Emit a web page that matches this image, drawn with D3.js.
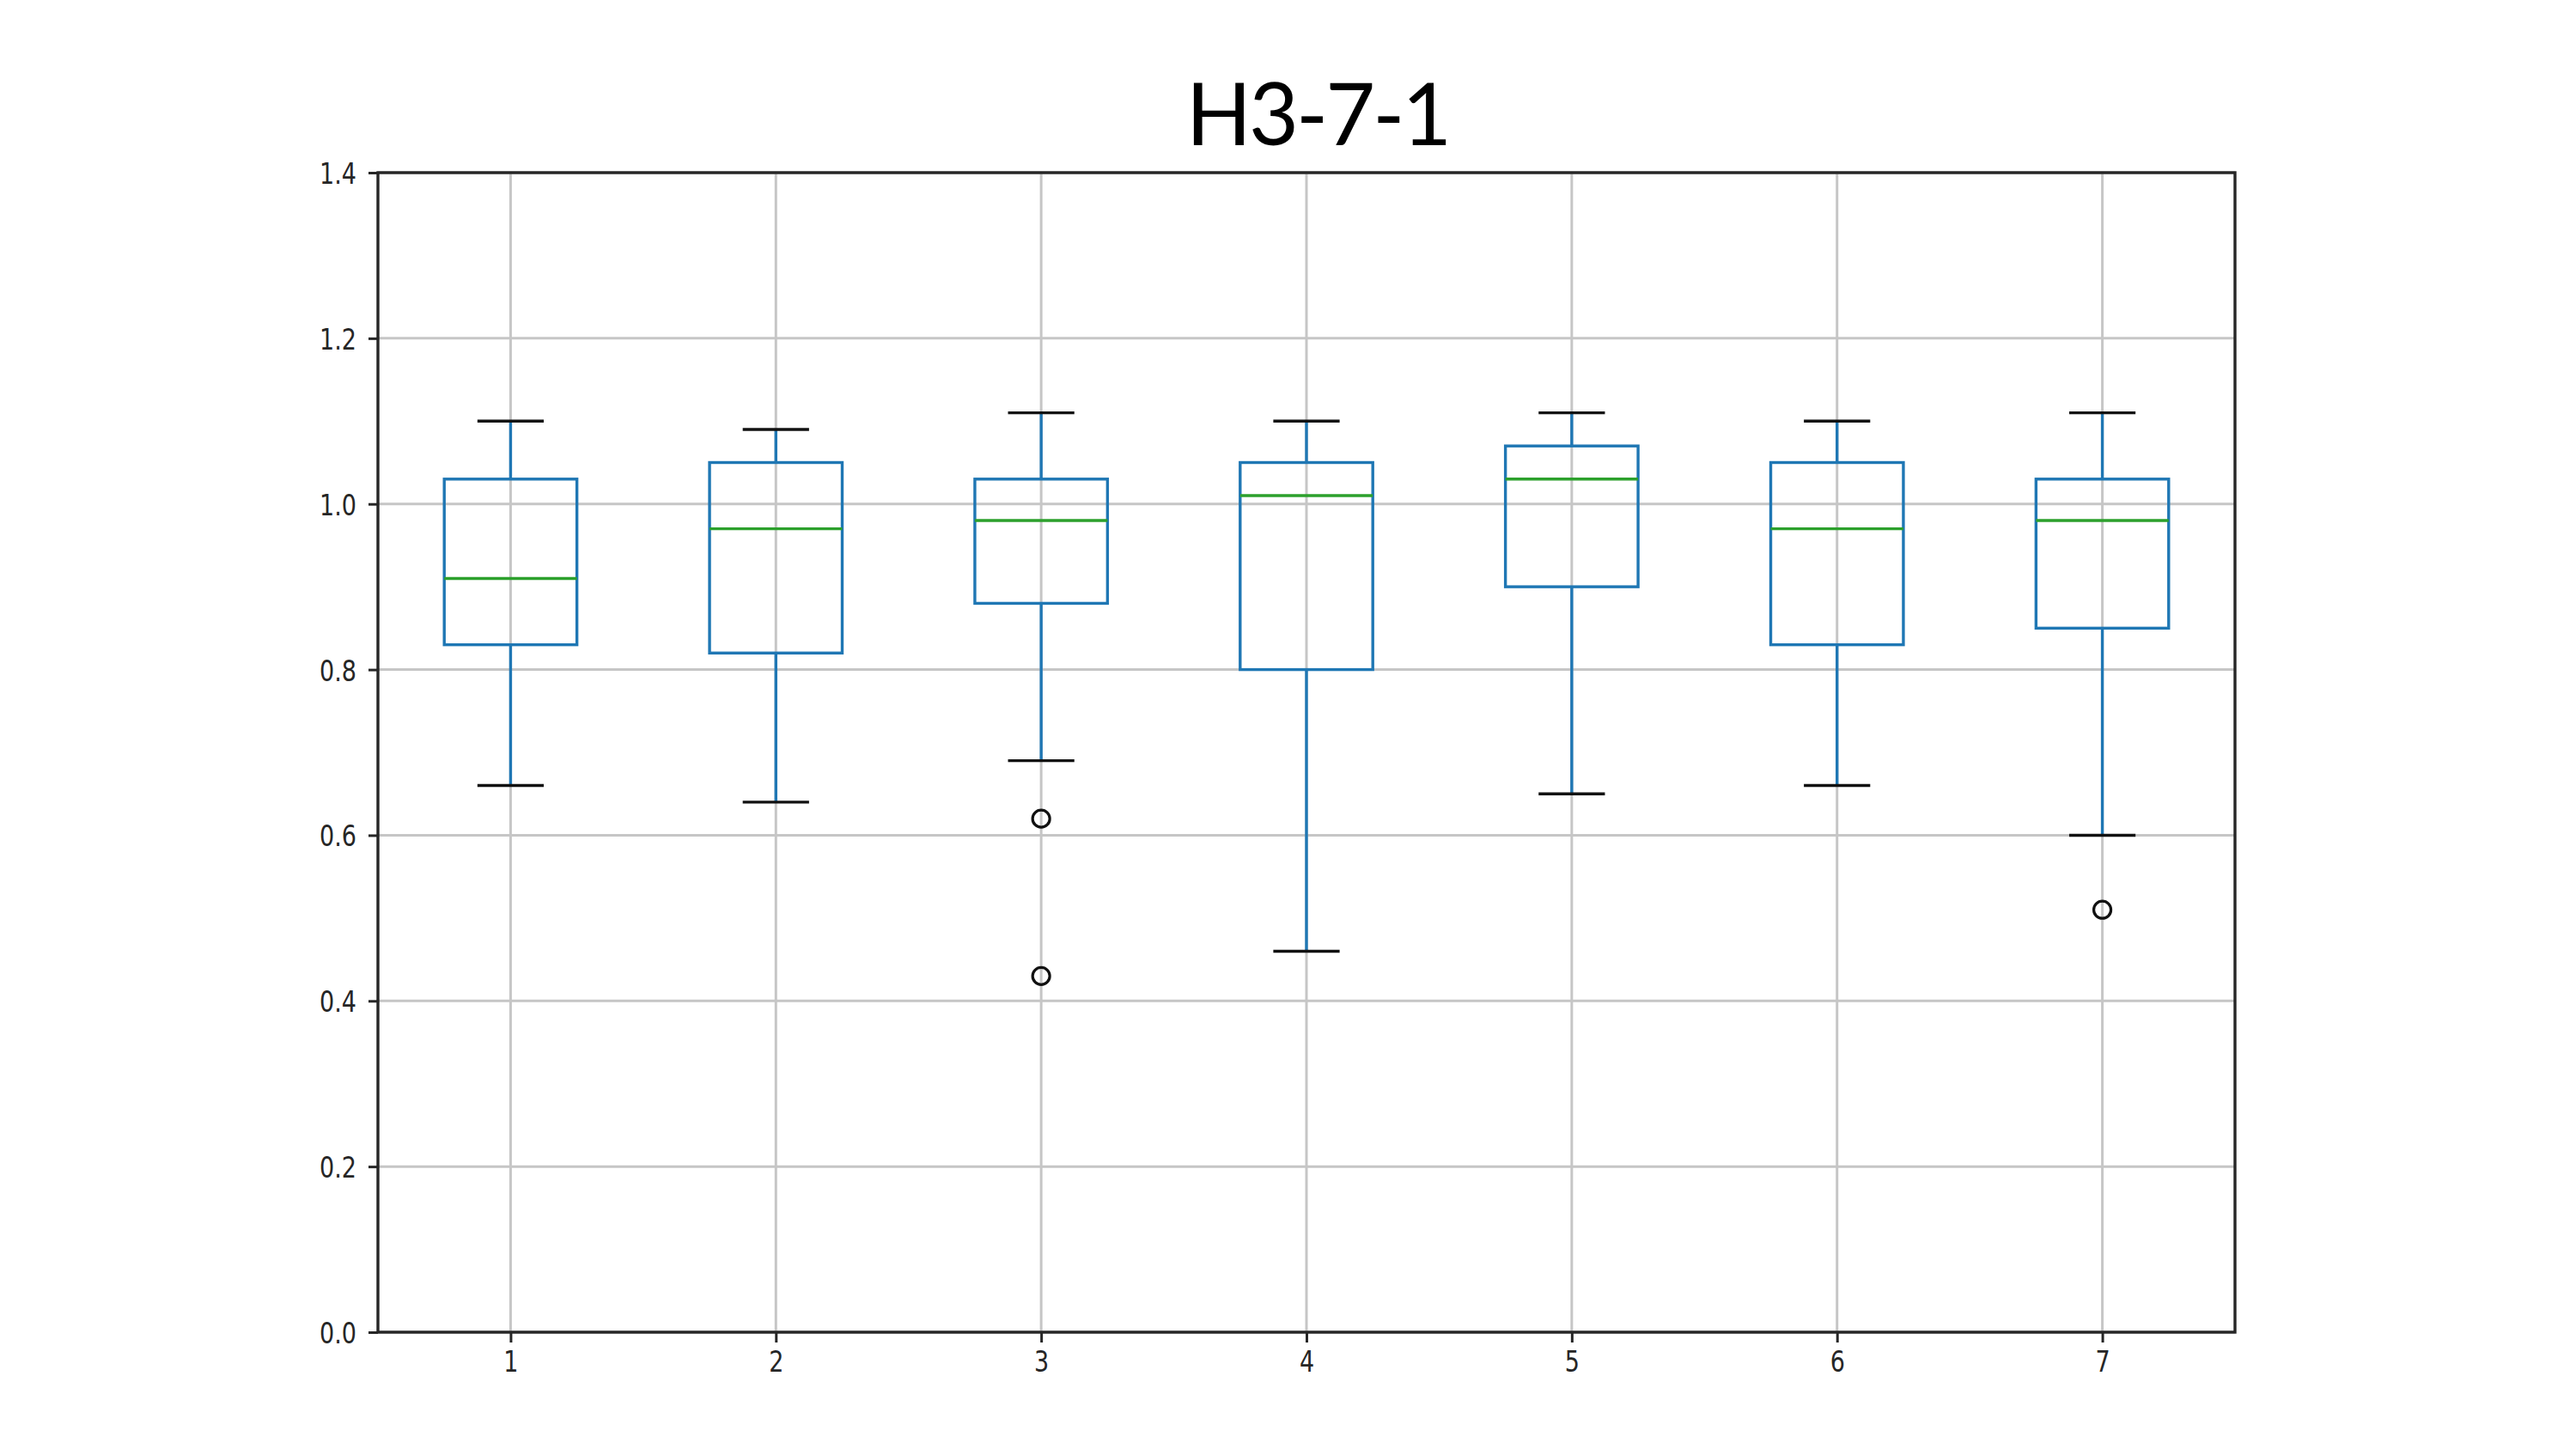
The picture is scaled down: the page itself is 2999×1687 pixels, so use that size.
<!DOCTYPE html>
<html>
<head>
<meta charset="utf-8">
<script src="https://cdn.jsdelivr.net/npm/d3@7"></script>
<style>
  body { margin: 0; background: #fff; }
  .tick text { font-family: "DejaVu Sans", sans-serif; fill: #262626; }
</style>
</head>
<body>
<div id="chart"></div>
<script>
// box stats, one entry per group
var groups   = [1, 2, 3, 4, 5, 6, 7];
var whiskLo  = [0.66, 0.64, 0.69, 0.46, 0.65, 0.66, 0.60];
var q1s      = [0.83, 0.82, 0.88, 0.80, 0.90, 0.83, 0.85];
var medians  = [0.91, 0.97, 0.98, 1.01, 1.03, 0.97, 0.98];
var q3s      = [1.03, 1.05, 1.03, 1.05, 1.07, 1.05, 1.03];
var whiskHi  = [1.10, 1.09, 1.11, 1.10, 1.11, 1.10, 1.11];
var outliers = [[], [], [0.62, 0.43], [], [], [], [0.51]];
var yTicks   = [0.0, 0.2, 0.4, 0.6, 0.8, 1.0, 1.2, 1.4];
var title    = "H3-7-1";

var width = 2999, height = 1687;
var margin = {left: 440, right: 397, top: 201, bottom: 136};
var plotW = width - margin.left - margin.right;
var plotH = height - margin.top - margin.bottom;

var svg = d3.select("#chart").append("svg")
    .attr("width", width)
    .attr("height", height)
    .style("background", "#fff");

var g = svg.append("g")
    .attr("transform", `translate(${margin.left},${margin.top})`);

var x = d3.scaleLinear().domain([0.5, 7.5]).range([0, plotW]);
var y = d3.scaleLinear().domain([0, 1.4]).range([plotH, 0]);

// grid
g.append("g").selectAll("line.gx")
  .data(groups).enter().append("line")
    .attr("x1", d => x(d)).attr("x2", d => x(d))
    .attr("y1", 0).attr("y2", plotH)
    .attr("stroke", "#c6c6c6").attr("stroke-width", 3);

g.append("g").selectAll("line.gy")
  .data(yTicks).enter().append("line")
    .attr("x1", 0).attr("x2", plotW)
    .attr("y1", d => y(d)).attr("y2", d => y(d))
    .attr("stroke", "#c6c6c6").attr("stroke-width", 3);

// axes
var yAxis = g.append("g")
    .call(d3.axisLeft(y).tickValues(yTicks).tickFormat(d3.format(".1f")).tickSize(11).tickSizeOuter(0));
var xAxis = g.append("g")
    .attr("transform", `translate(0,${plotH})`)
    .call(d3.axisBottom(x).tickValues(groups).tickFormat(d3.format("d")).tickSize(12).tickSizeOuter(0));

[yAxis, xAxis].forEach(function(a) {
  a.select(".domain").remove();
  a.selectAll(".tick line").attr("stroke", "#262626").attr("stroke-width", 3);
  a.selectAll(".tick text").style("font-size", "27px");
});
// text in the picture is a bit stretched vertically
yAxis.selectAll(".tick text")
    .attr("x", -25).attr("y", 10).attr("dy", 0)
    .attr("transform", "scale(1,1.25)");
xAxis.selectAll(".tick text")
    .attr("y", 37).attr("dy", 0)
    .attr("transform", "scale(1,1.25)");

// boxes
var boxW = x(1.25) - x(1);   // half width of box
var capW = x(1.125) - x(1);  // half width of cap

var box = g.append("g").selectAll("g.box")
  .data(groups).enter().append("g");

box.append("line")
    .attr("x1", d => x(d)).attr("x2", d => x(d))
    .attr("y1", (d, i) => y(whiskLo[i])).attr("y2", (d, i) => y(q1s[i]))
    .attr("stroke", "#1f77b4").attr("stroke-width", 3.4);
box.append("line")
    .attr("x1", d => x(d)).attr("x2", d => x(d))
    .attr("y1", (d, i) => y(q3s[i])).attr("y2", (d, i) => y(whiskHi[i]))
    .attr("stroke", "#1f77b4").attr("stroke-width", 3.4);

box.append("rect")
    .attr("x", d => x(d) - boxW)
    .attr("y", (d, i) => y(q3s[i]))
    .attr("width", boxW * 2)
    .attr("height", (d, i) => y(q1s[i]) - y(q3s[i]))
    .attr("fill", "none")
    .attr("stroke", "#1f77b4").attr("stroke-width", 3.4);

box.append("line")
    .attr("x1", d => x(d) - boxW).attr("x2", d => x(d) + boxW)
    .attr("y1", (d, i) => y(medians[i])).attr("y2", (d, i) => y(medians[i]))
    .attr("stroke", "#2ca02c").attr("stroke-width", 3.4);

box.selectAll("line.cap")
  .data((d, i) => [{g: d, v: whiskLo[i]}, {g: d, v: whiskHi[i]}])
  .enter().append("line")
    .attr("x1", d => x(d.g) - capW).attr("x2", d => x(d.g) + capW)
    .attr("y1", d => y(d.v)).attr("y2", d => y(d.v))
    .attr("stroke", "#111").attr("stroke-width", 3.4);

box.selectAll("circle")
  .data((d, i) => outliers[i].map(v => ({g: d, v: v})))
  .enter().append("circle")
    .attr("cx", d => x(d.g)).attr("cy", d => y(d.v))
    .attr("r", 10)
    .attr("fill", "none")
    .attr("stroke", "#111").attr("stroke-width", 3.2);

// frame
g.append("rect")
    .attr("width", plotW).attr("height", plotH)
    .attr("fill", "none")
    .attr("stroke", "#262626").attr("stroke-width", 3.4);

svg.append("text")
    .attr("x", 1534).attr("y", 169)
    .attr("text-anchor", "middle")
    .style("font-family", "Lato, 'Open Sans', sans-serif")
    .style("font-size", "100px")
    .style("letter-spacing", "-3px")
    .style("fill", "#000")
    .text(title);
</script>
</body>
</html>
